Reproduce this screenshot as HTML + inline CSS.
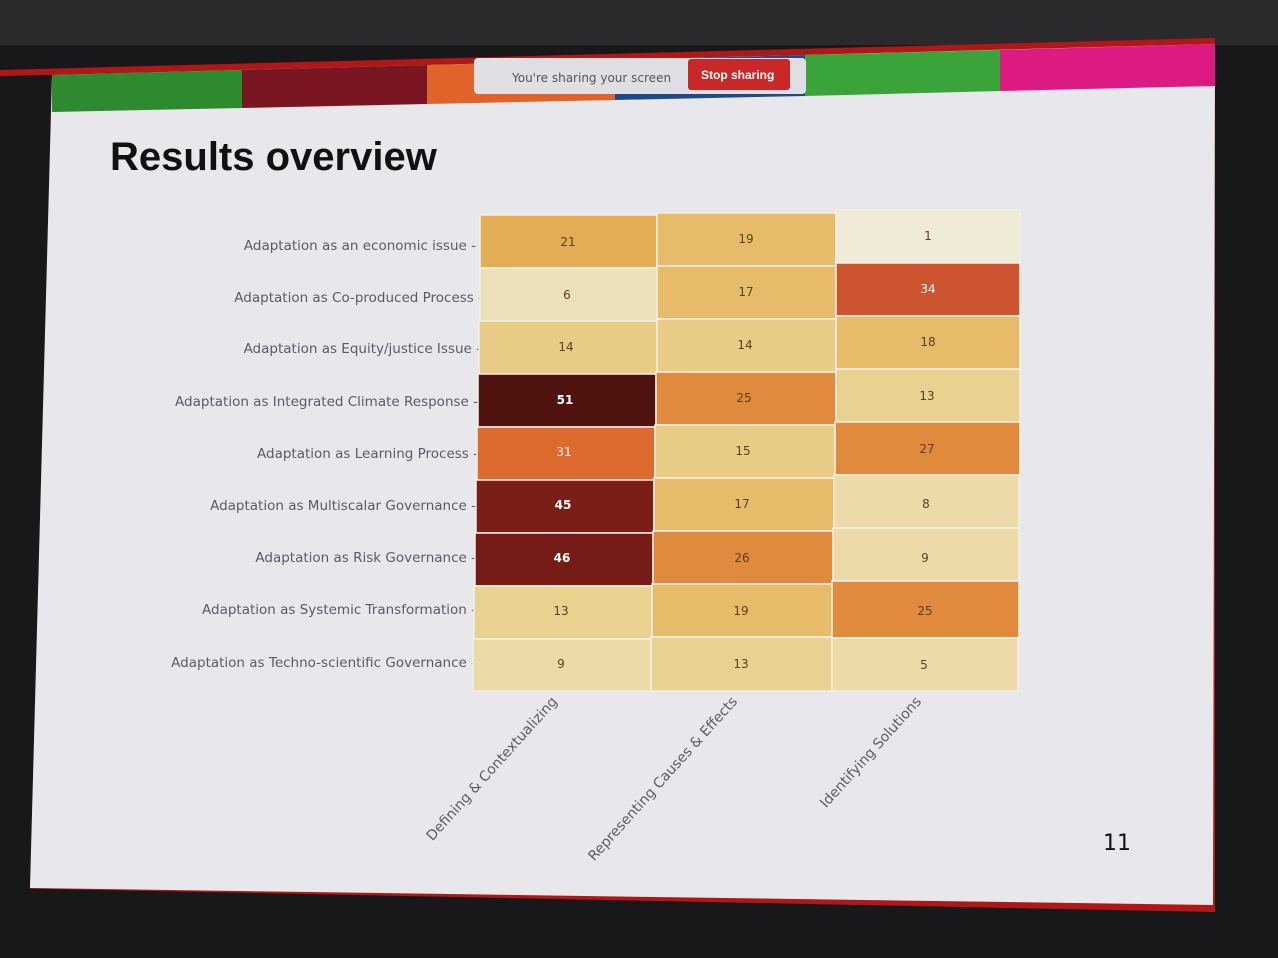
<!DOCTYPE html>
<html><head><meta charset="utf-8"><style>
html,body{margin:0;padding:0;background:#1a1a1c;}
svg{display:block}
text{font-family:"DejaVu Sans","Liberation Sans",sans-serif;}
</style></head><body>
<svg width="1278" height="958" viewBox="0 0 1278 958" xmlns="http://www.w3.org/2000/svg">
<rect width="1278" height="958" fill="#18181a"/>
<rect x="0" y="0" width="1278" height="45" fill="#2a2a2c"/>
<polygon points="0,70 1215,38 1215,912 0,888" fill="#b01818"/>
<polygon points="0,76 52,75 30,890 0,890" fill="#18181a"/>
<polygon points="52,75 1215,44 1213,905 30,888" fill="#e8e8ec"/>
<polygon points="52,75 242,70 242,108 52,112" fill="#2e8a2e"/>
<polygon points="242,70 427,65 427,104 242,108" fill="#7a1622"/>
<polygon points="427,65 615,60 615,100 427,104" fill="#e0642a"/>
<polygon points="615,60 805,55 805,96 615,100" fill="#1e4a8a"/>
<polygon points="805,55 1000,50 1000,91 805,96" fill="#3aa33a"/>
<polygon points="1000,50 1215,44 1215,86 1000,91" fill="#dd1a82"/>
<rect x="474" y="58" width="332" height="36" rx="4" fill="#e0e0e4"/>
<rect x="688" y="59" width="102" height="31" rx="3" fill="#c82828"/>
<text x="512" y="82" font-size="12" fill="#555">You're sharing your screen</text>
<text x="701" y="79" font-size="12" fill="#fff" font-weight="bold" style="font-family:'Liberation Sans',sans-serif">Stop sharing</text>
<text x="110" y="170" font-size="40" font-weight="bold" fill="#111" style="font-family:'Liberation Sans',sans-serif">Results overview</text>
<text x="1103" y="850" font-size="22" fill="#111">11</text>
<g font-size="13.5" fill="#5a5a66">
<text x="476" y="250" text-anchor="end">Adaptation as an economic issue -</text>
<text x="483" y="302" text-anchor="end">Adaptation as Co-produced Process -</text>
<text x="481" y="353" text-anchor="end">Adaptation as Equity/justice Issue -</text>
<text x="478" y="406" text-anchor="end">Adaptation as Integrated Climate Response -</text>
<text x="478" y="458" text-anchor="end">Adaptation as Learning Process -</text>
<text x="476" y="510" text-anchor="end">Adaptation as Multiscalar Governance -</text>
<text x="476" y="562" text-anchor="end">Adaptation as Risk Governance -</text>
<text x="476" y="614" text-anchor="end">Adaptation as Systemic Transformation -</text>
<text x="476" y="667" text-anchor="end">Adaptation as Techno-scientific Governance -</text>
</g>
<g stroke="#f2efe6" stroke-width="1.5" font-size="12" text-anchor="middle">
<rect x="480" y="215" width="177" height="53" fill="#e3ad55"/><rect x="657" y="213" width="179" height="53" fill="#e6bb6a"/><rect x="836" y="210" width="184" height="53" fill="#f0ead8"/>
<rect x="480" y="268" width="177" height="53" fill="#ece0b8"/><rect x="657" y="266" width="179" height="53" fill="#e6bb6a"/><rect x="836" y="263" width="184" height="53" fill="#cc5530"/>
<rect x="479" y="321" width="178" height="53" fill="#e8cc85"/><rect x="657" y="319" width="179" height="53" fill="#e8cc85"/><rect x="836" y="316" width="184" height="53" fill="#e6bb6a"/>
<rect x="478" y="374" width="178" height="53" fill="#4f1410"/><rect x="656" y="372" width="180" height="53" fill="#e08a3e"/><rect x="836" y="369" width="184" height="53" fill="#e9d18f"/>
<rect x="477" y="427" width="178" height="53" fill="#dd6a2e"/><rect x="655" y="425" width="180" height="53" fill="#e8cc85"/><rect x="835" y="422" width="185" height="53" fill="#e08a3e"/>
<rect x="476" y="480" width="178" height="53" fill="#7a1f18"/><rect x="654" y="478" width="180" height="53" fill="#e6bb6a"/><rect x="834" y="475" width="185" height="53" fill="#ecdaa8"/>
<rect x="475" y="533" width="178" height="53" fill="#761c16"/><rect x="653" y="531" width="180" height="53" fill="#e08a3e"/><rect x="833" y="528" width="186" height="53" fill="#ecdaa8"/>
<rect x="474" y="586" width="178" height="53" fill="#e9d18f"/><rect x="652" y="584" width="180" height="53" fill="#e6bb6a"/><rect x="832" y="581" width="187" height="57" fill="#e08a3e"/>
<rect x="473" y="639" width="178" height="52" fill="#ecdaa8"/><rect x="651" y="637" width="181" height="54" fill="#e9d18f"/><rect x="832" y="638" width="186" height="53" fill="#ecdaa8"/>
</g>
<g font-size="12" text-anchor="middle" fill="#5a4020">
<text x="568" y="246">21</text><text x="746" y="243">19</text><text x="928" y="240">1</text>
<text x="567" y="299">6</text><text x="746" y="296">17</text><text x="928" y="293" fill="#fff">34</text>
<text x="566" y="351">14</text><text x="745" y="349">14</text><text x="928" y="346">18</text>
<text x="565" y="404" fill="#fff" font-weight="bold">51</text><text x="744" y="402">25</text><text x="927" y="400">13</text>
<text x="564" y="456" fill="#fff">31</text><text x="743" y="455">15</text><text x="927" y="453">27</text>
<text x="563" y="509" fill="#fff" font-weight="bold">45</text><text x="742" y="508">17</text><text x="926" y="508">8</text>
<text x="562" y="562" fill="#fff" font-weight="bold">46</text><text x="742" y="562">26</text><text x="925" y="562">9</text>
<text x="561" y="615">13</text><text x="741" y="615">19</text><text x="925" y="615">25</text>
<text x="561" y="668">9</text><text x="741" y="668">13</text><text x="924" y="669">5</text>
</g>
<g font-size="14" fill="#5a5a66" text-anchor="end">
<text transform="translate(558,702) rotate(-48)">Defining &amp; Contextualizing</text>
<text transform="translate(738,702) rotate(-48)">Representing Causes &amp; Effects</text>
<text transform="translate(922,702) rotate(-48)">Identifying Solutions</text>
</g>
</svg>
</body></html>
